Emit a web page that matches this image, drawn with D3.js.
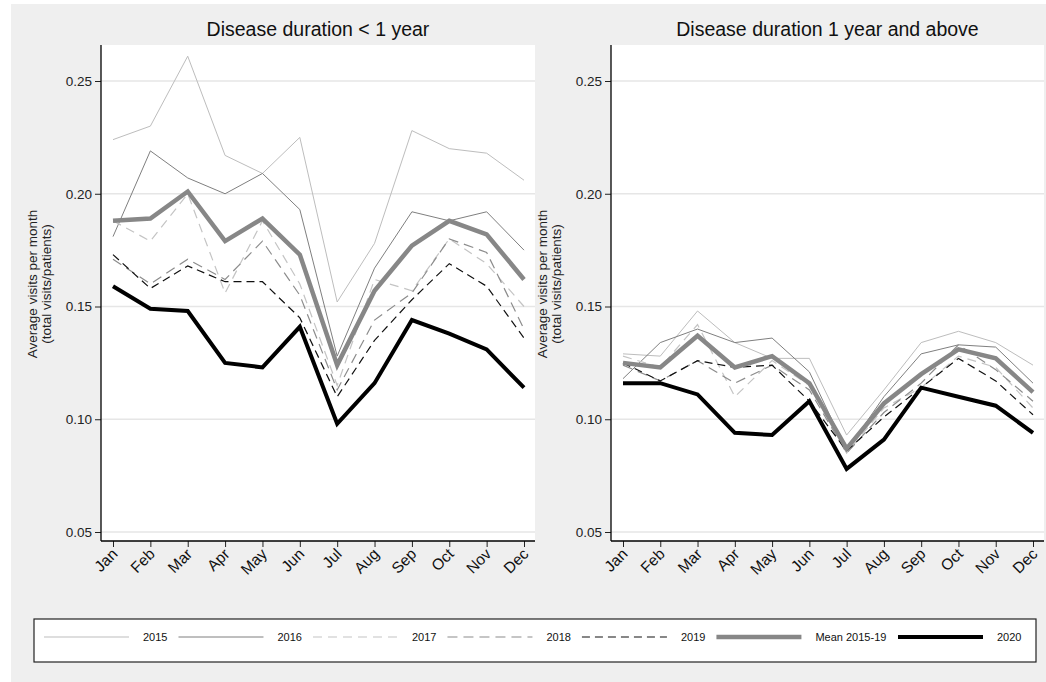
<!DOCTYPE html>
<html>
<head>
<meta charset="utf-8">
<script src="https://cdn.jsdelivr.net/npm/d3@7"></script>
<style>
  body { margin: 0; background: #fff; }
  svg { display: block; font-family: "Liberation Sans", Arial, sans-serif; }
</style>
</head>
<body>
<div id="chart"></div>
<script>
// data
var months = ['Jan', 'Feb', 'Mar', 'Apr', 'May', 'Jun', 'Jul', 'Aug', 'Sep', 'Oct', 'Nov', 'Dec'];
var yTicks = [0.05, 0.10, 0.15, 0.20, 0.25];
var panelTitles = ['Disease duration < 1 year', 'Disease duration 1 year and above'];
var seriesNames = ['2015', '2016', '2017', '2018', '2019', 'Mean 2015-19', '2020'];

// disease duration < 1 year
var lt1_2015 = [0.224, 0.230, 0.261, 0.217, 0.209, 0.225, 0.152, 0.178, 0.228, 0.220, 0.218, 0.206];
var lt1_2016 = [0.181, 0.219, 0.207, 0.200, 0.209, 0.193, 0.128, 0.167, 0.192, 0.188, 0.192, 0.175];
var lt1_2017 = [0.188, 0.179, 0.200, 0.156, 0.188, 0.160, 0.115, 0.162, 0.157, 0.180, 0.169, 0.150];
var lt1_2018 = [0.171, 0.160, 0.171, 0.162, 0.179, 0.155, 0.113, 0.144, 0.156, 0.180, 0.174, 0.140];
var lt1_2019 = [0.173, 0.158, 0.168, 0.161, 0.161, 0.145, 0.110, 0.135, 0.153, 0.169, 0.159, 0.136];
var lt1_mean = [0.188, 0.189, 0.201, 0.179, 0.189, 0.173, 0.124, 0.157, 0.177, 0.188, 0.182, 0.162];
var lt1_2020 = [0.159, 0.149, 0.148, 0.125, 0.123, 0.141, 0.098, 0.116, 0.144, 0.138, 0.131, 0.114];

// disease duration 1 year and above
var ge1_2015 = [0.129, 0.128, 0.148, 0.134, 0.127, 0.127, 0.093, 0.113, 0.134, 0.139, 0.134, 0.124];
var ge1_2016 = [0.118, 0.134, 0.140, 0.134, 0.136, 0.121, 0.086, 0.110, 0.129, 0.133, 0.132, 0.116];
var ge1_2017 = [0.128, 0.123, 0.142, 0.110, 0.126, 0.115, 0.085, 0.105, 0.114, 0.128, 0.123, 0.105];
var ge1_2018 = [0.124, 0.117, 0.126, 0.116, 0.124, 0.113, 0.085, 0.103, 0.116, 0.133, 0.122, 0.108];
var ge1_2019 = [0.125, 0.117, 0.126, 0.123, 0.124, 0.108, 0.086, 0.101, 0.114, 0.127, 0.117, 0.102];
var ge1_mean = [0.125, 0.123, 0.137, 0.123, 0.128, 0.116, 0.087, 0.107, 0.120, 0.131, 0.127, 0.112];
var ge1_2020 = [0.116, 0.116, 0.111, 0.094, 0.093, 0.108, 0.078, 0.091, 0.114, 0.110, 0.106, 0.094];

var panelData = [
  [lt1_2015, lt1_2016, lt1_2017, lt1_2018, lt1_2019, lt1_mean, lt1_2020],
  [ge1_2015, ge1_2016, ge1_2017, ge1_2018, ge1_2019, ge1_mean, ge1_2020]
];

// line styles, one per series
var styles = [
  {color: '#bdbdbd', width: 1, dash: null},
  {color: '#7f7f7f', width: 1, dash: null},
  {color: '#c4c4c4', width: 1.2, dash: '9,6'},
  {color: '#8c8c8c', width: 1.2, dash: '10,6'},
  {color: '#111111', width: 1.2, dash: '8,5'},
  {color: '#878787', width: 4.5, dash: null},
  {color: '#000000', width: 4, dash: null}
];

var W = 1046, H = 682;
var svg = d3.select('#chart').append('svg').attr('width', W).attr('height', H);

svg.append('rect').attr('x', 11).attr('y', 4).attr('width', W - 11).attr('height', H - 4).attr('fill', '#efefef');

var panels = [{left: 101, right: 535}, {left: 611, right: 1044}];
var plotTop = 45, plotBottom = 541;

var y = d3.scaleLinear().domain([0.05, 0.25]).range([532, 81]);

panels.forEach(function (p, pi) {
  var g = svg.append('g');

  var x = d3.scalePoint().domain(months).range([p.left + 12, p.right - 11]);

  g.append('rect')
    .attr('x', p.left).attr('y', plotTop)
    .attr('width', p.right - p.left).attr('height', plotBottom - plotTop)
    .attr('fill', '#fff');

  // gridlines
  g.selectAll('.grid')
    .data(yTicks)
    .enter()
    .append('line')
    .attr('x1', p.left).attr('x2', p.right)
    .attr('y1', function (d) { return y(d); })
    .attr('y2', function (d) { return y(d); })
    .attr('stroke', '#e6e6e6')
    .attr('stroke-width', 1.5);

  // title
  g.append('text')
    .attr('x', (p.left + p.right) / 2)
    .attr('y', 36)
    .attr('text-anchor', 'middle')
    .attr('font-size', 19.5)
    .attr('fill', '#111')
    .text(panelTitles[pi]);

  // lines
  var line = d3.line()
    .x(function (d, i) { return x(months[i]); })
    .y(function (d) { return y(d); });

  panelData[pi].forEach(function (vals, si) {
    var st = styles[si];
    g.append('path')
      .datum(vals)
      .attr('d', line)
      .attr('fill', 'none')
      .attr('stroke', st.color)
      .attr('stroke-width', st.width)
      .attr('stroke-dasharray', st.dash)
      .attr('stroke-linejoin', 'miter');
  });

  // y axis
  var yAxis = g.append('g')
    .attr('transform', 'translate(' + p.left + ',0)')
    .call(d3.axisLeft(y).tickValues(yTicks).tickFormat(d3.format('.2f')).tickSize(6).tickPadding(3));
  yAxis.select('.domain').remove();
  yAxis.selectAll('text').attr('font-size', 13.5).attr('fill', '#222').attr('font-family', 'Liberation Sans, Arial, sans-serif');
  yAxis.selectAll('line').attr('stroke', '#222');
  g.append('line')
    .attr('x1', p.left).attr('x2', p.left)
    .attr('y1', plotTop).attr('y2', plotBottom)
    .attr('stroke', '#000').attr('stroke-width', 1.3);

  // x axis
  var xAxis = g.append('g')
    .attr('transform', 'translate(0,' + plotBottom + ')')
    .call(d3.axisBottom(x).tickSize(6).tickSizeOuter(0));
  xAxis.select('.domain').remove();
  xAxis.selectAll('line').attr('stroke', '#222');
  xAxis.selectAll('text')
    .attr('font-size', 15.5)
    .attr('fill', '#111')
    .attr('font-family', 'Liberation Sans, Arial, sans-serif')
    .attr('text-anchor', 'end')
    .attr('dy', null)
    .attr('y', 0)
    .attr('transform', 'translate(5,14) rotate(-45)');
  g.append('line')
    .attr('x1', p.left).attr('x2', p.right)
    .attr('y1', plotBottom).attr('y2', plotBottom)
    .attr('stroke', '#000').attr('stroke-width', 1.3);

  // y axis title
  var yt = g.append('text')
    .attr('transform', 'translate(' + (p.left - 64) + ',284) rotate(-90)')
    .attr('text-anchor', 'middle')
    .attr('font-size', 13.5)
    .attr('fill', '#222');
  yt.append('tspan').attr('x', 0).attr('dy', 0).text('Average visits per month');
  yt.append('tspan').attr('x', 0).attr('dy', 14).text('(total visits/patients)');
});

// legend
var lg = svg.append('g');
lg.append('rect')
  .attr('x', 34).attr('y', 619)
  .attr('width', 1002).attr('height', 43)
  .attr('fill', '#fff')
  .attr('stroke', '#222')
  .attr('stroke-width', 1.2);

var lx = 44;
seriesNames.forEach(function (name, i) {
  var st = styles[i];
  lg.append('line')
    .attr('x1', lx).attr('x2', lx + 85)
    .attr('y1', 637).attr('y2', 637)
    .attr('stroke', st.color)
    .attr('stroke-width', st.width)
    .attr('stroke-dasharray', st.dash);
  var t = lg.append('text')
    .attr('x', lx + 99)
    .attr('y', 641)
    .attr('font-size', 11)
    .attr('fill', '#111')
    .text(name);
  var tw = t.node().getComputedTextLength();
  lx = lx + 99 + tw + 11;
  if (i === 5) lx = 898;
});
</script>
</body>
</html>
